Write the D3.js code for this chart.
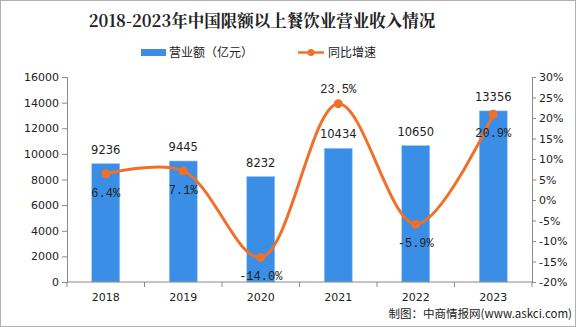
<!DOCTYPE html>
<html><head><meta charset="utf-8">
<script src="https://cdn.jsdelivr.net/npm/d3@7"></script>
<style>body{margin:0;background:#fff}svg{display:block}</style>
</head><body>
<svg id="c" width="576" height="327"></svg>
<script>
const years = ["2018","2019","2020","2021","2022","2023"];
const revenue = [9236, 9445, 8232, 10434, 10650, 13356];
const growth = [6.4, 7.1, -14.0, 23.5, -5.9, 20.9];
const leftTicks = [0,2000,4000,6000,8000,10000,12000,14000,16000];
const rightTicks = [-20,-15,-10,-5,0,5,10,15,20,25,30];
const growthLabelAbove = [false,false,false,true,false,false];

const svg = d3.select("#c");
const W=576,H=327;
const L=67,R=532,T=77,B=282;
const font = "'Noto Sans CJK SC', 'DejaVu Sans', sans-serif";

svg.append("rect").attr("x",0.5).attr("y",0.5).attr("width",W-1).attr("height",H-1)
  .attr("fill","#fff").attr("stroke","#b0b0b0");

const x = d3.scaleBand().domain(years).range([L,R]).paddingInner(0).paddingOuter(0);
const yL = d3.scaleLinear().domain([0,16000]).range([B,T]);
const yR = d3.scaleLinear().domain([-20,30]).range([B,T]);

// title
svg.append("text").attr("x",262).attr("y",27).attr("text-anchor","middle")
  .attr("font-family","'Noto Serif CJK SC','Noto Sans CJK SC',serif").attr("font-weight","bold")
  .attr("font-size",16.5).attr("fill","#222").text("2018-2023年中国限额以上餐饮业营业收入情况");

// legend
svg.append("rect").attr("x",141).attr("y",49).attr("width",25).attr("height",7).attr("fill","#3a8ee6");
svg.append("text").attr("x",169).attr("y",57).attr("font-family",font).attr("font-size",12).attr("fill","#222").text("营业额（亿元）");
svg.append("line").attr("x1",298).attr("x2",324).attr("y1",52.5).attr("y2",52.5).attr("stroke","#f0702a").attr("stroke-width",2.5);
svg.append("circle").attr("cx",311).attr("cy",52.5).attr("r",3.5).attr("fill","#f0702a");
svg.append("text").attr("x",328).attr("y",57).attr("font-family",font).attr("font-size",12).attr("fill","#222").text("同比增速");

// bars
const bw = 28;
svg.append("g").selectAll("rect").data(years).join("rect")
  .attr("x",(d)=>x(d)+x.bandwidth()/2-bw/2).attr("width",bw)
  .attr("y",(d,i)=>yL(revenue[i])).attr("height",(d,i)=>B-yL(revenue[i]))
  .attr("fill","#3a8ee6").attr("stroke","#9cc6f2").attr("stroke-width",0.6);

// axes
const axisColor="#8a8a8a";
const gl = svg.append("g").attr("transform",`translate(${L},0)`)
  .call(d3.axisLeft(yL).tickValues(leftTicks).tickSize(5).tickFormat(d3.format("d")));
const gr = svg.append("g").attr("transform",`translate(${R},0)`)
  .call(d3.axisRight(yR).tickValues(rightTicks).tickSize(4).tickFormat(d=>d+"%"));
const gb = svg.append("g").attr("transform",`translate(0,${B})`)
  .call(d3.axisBottom(x).tickSize(0).tickPadding(11));
// band boundary ticks
const bounds = years.map(d=>x(d)).concat([R]);
svg.append("g").selectAll("line").data(bounds).join("line")
  .attr("x1",d=>d).attr("x2",d=>d).attr("y1",B).attr("y2",B+5).attr("stroke",axisColor);
[gl,gr,gb].forEach(g=>{
  g.selectAll("path").attr("stroke",axisColor);
  g.selectAll("line").attr("stroke",axisColor);
  g.selectAll("text").attr("font-family","'DejaVu Sans',sans-serif").attr("font-size",11).attr("fill","#222");
});
gb.select(".domain").attr("d",`M${L},0H${R}`);

// line
const pts = years.map((d,i)=>[x(d)+x.bandwidth()/2, yR(growth[i])]);
svg.append("path").datum(pts).attr("d",d3.line().curve(d3.curveCatmullRom.alpha(0.5)))
  .attr("fill","none").attr("stroke","#f0702a").attr("stroke-width",3);
svg.append("g").selectAll("circle").data(pts).join("circle")
  .attr("cx",d=>d[0]).attr("cy",d=>d[1]).attr("r",4.5).attr("fill","#f0702a");

// bar labels
svg.append("g").selectAll("text").data(years).join("text")
  .attr("x",d=>x(d)+x.bandwidth()/2).attr("y",(d,i)=>yL(revenue[i])-10)
  .attr("text-anchor","middle").attr("font-family","'DejaVu Sans',sans-serif").attr("font-size",11.5).attr("fill","#222")
  .text((d,i)=>revenue[i]);
// growth labels
svg.append("g").selectAll("text").data(years).join("text")
  .attr("x",d=>x(d)+x.bandwidth()/2).attr("y",(d,i)=>yR(growth[i])+(growthLabelAbove[i]?-11:23))
  .attr("text-anchor","middle").attr("font-family","'Liberation Mono','DejaVu Sans Mono',monospace").attr("font-size",12).attr("fill","#222")
  .text((d,i)=>growth[i].toFixed(1)+"%");

// source
svg.append("text").attr("x",572).attr("y",318).attr("text-anchor","end")
  .attr("font-family",font).attr("font-size",11.5).attr("fill","#222").text("制图：中商情报网(www.askci.com)");
</script>
</body></html>
